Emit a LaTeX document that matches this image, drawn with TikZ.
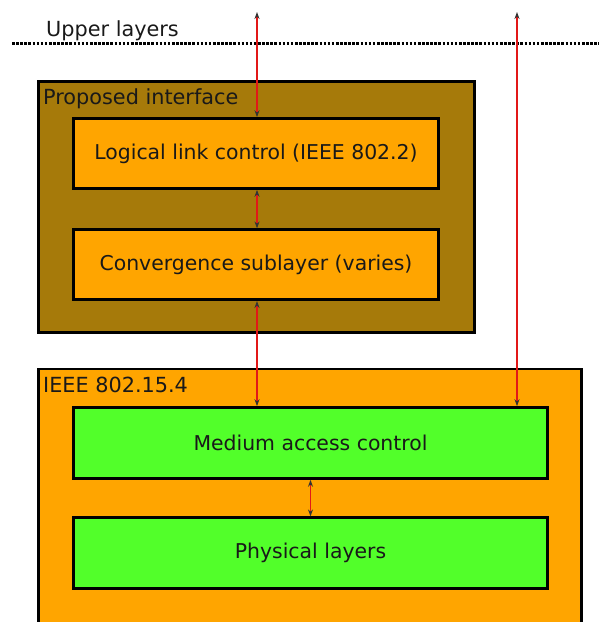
\documentclass[tikz,border=0pt]{standalone}
\usepackage{fontspec}
\setmainfont{DejaVu Sans}
\usetikzlibrary{arrows.meta,positioning}
\definecolor{ifbrown}{RGB}{166,122,10}
\definecolor{iforange}{RGB}{255,165,0}
\definecolor{ifgreen}{RGB}{82,255,42}
\definecolor{ifred}{RGB}{226,24,24}
\tikzstyle{arrow} = [line width=1.4pt, {Stealth[length=7pt,width=5pt,black!80]}-{Stealth[length=7pt,width=5pt,black!80]}, color=ifred]
\tikzstyle{frame} = [rectangle, draw=black, line width=2.6pt, inner sep=0pt]
\tikzstyle{layer} = [rectangle, draw=black, line width=2.6pt, text centered, text=black!90, font=\fontsize{20.4}{24}\selectfont]
\tikzstyle{caption} = [inner sep=0pt, anchor=base west, text=black!90, font=\fontsize{20.8}{24}\selectfont]

\begin{document}
\begin{tikzpicture}[x=1pt, y=-1pt]
\useasboundingbox (0,0) rectangle (599,622);
\clip (0,0) rectangle (599,622);

% Upper layers
\node (upper) [caption] at (46,36) {Upper layers};
\draw[line width=3pt, dash pattern=on 2.6pt off 1.5pt] (12,43) -- (599,43);

% Proposed interface
\node (iface) [frame, fill=ifbrown, minimum width=436pt, minimum height=251pt] at (256.5,207) {};
\node (ifacelabel) [caption] at (43,104) {Proposed interface};
\node (llc) [layer, fill=iforange, minimum width=365pt, minimum height=70pt] at (256,153.5) {Logical link control (IEEE 802.2)};
\node (conv) [layer, fill=iforange, below=38.6pt of llc, minimum width=365pt, minimum height=70pt] {Convergence sublayer (varies)};

% IEEE 802.15.4
\node (ieee) [frame, fill=iforange, minimum width=543pt, minimum height=280pt] at (310,509) {};
\node (ieeelabel) [caption] at (43,392) {IEEE 802.15.4};
\node (mac) [layer, fill=ifgreen, minimum width=474pt, minimum height=71pt] at (310.5,443) {Medium access control};
\node (phy) [layer, fill=ifgreen, below=36.6pt of mac, minimum width=474pt, minimum height=71pt] {Physical layers};

% Connections
\coordinate (top1) at (257,12);
\coordinate (top2) at (517,12);
\draw[arrow] (top1) -- (top1 |- llc.north);
\draw[arrow] (llc.south -| top1) -- (conv.north -| top1);
\draw[arrow] (conv.south -| top1) -- (mac.north -| top1);
\draw[arrow] (top2) -- (top2 |- mac.north);
\draw[arrow] (mac.south) -- (phy.north);
\end{tikzpicture}
\end{document}
